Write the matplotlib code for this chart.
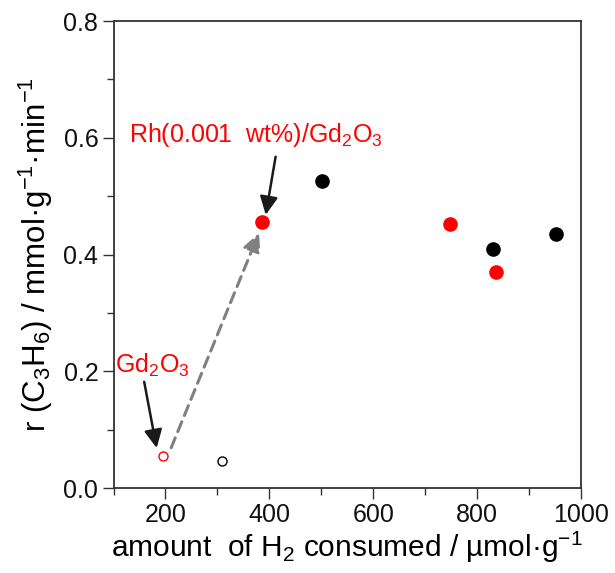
import numpy as np
import matplotlib.pyplot as plt
from matplotlib.ticker import MultipleLocator

plt.rcParams['font.family'] = ['Liberation Sans', 'DejaVu Sans']
plt.rcParams['mathtext.fontset'] = 'custom'
plt.rcParams['mathtext.rm'] = 'Liberation Sans'
plt.rcParams['mathtext.it'] = 'Liberation Sans'

# black filled: Rh catalysts on other supports
black_x = [502, 831, 952]
black_y = [0.526, 0.410, 0.436]
# red filled: Rh/Gd2O3 series
red_x = [386, 747, 837]
red_y = [0.456, 0.452, 0.370]
# hollow points: bare supports
red_open_x = [196]
red_open_y = [0.055]
black_open_x = [309]
black_open_y = [0.047]

fig = plt.figure(figsize=(6.15, 5.73), dpi=100)
ax = fig.add_axes([0.1846, 0.1483, 0.7602, 0.815])

ax.plot(black_x, black_y, 'o', color='black', ms=9.5, zorder=3)
ax.plot(red_x, red_y, 'o', color='red', ms=9.5, zorder=3)
ax.plot(red_open_x, red_open_y, 'o', mfc='white', mec='red', ms=6.5, mew=1.0, zorder=3)
ax.plot(black_open_x, black_open_y, 'o', mfc='white', mec='black', ms=6.5, mew=1.0, zorder=3)

# gray dashed arrow from bare support to Rh-loaded
ax.annotate('', xy=(380, 0.437), xytext=(211, 0.069),
            arrowprops=dict(arrowstyle='-|>,head_length=0.55,head_width=0.27', color='gray',
                            mutation_scale=20, lw=2.2, linestyle=(0, (3.5, 2.2)),
                            shrinkA=0, shrinkB=0))

# labels with black arrows
ax.text(374, 0.593, 'Rh(0.001  wt%)/Gd$_2$O$_3$', color='red', fontsize=18,
        ha='center', va='baseline')
ax.annotate('', xy=(393, 0.468), xytext=(412, 0.5675),
            arrowprops=dict(arrowstyle='-|>,head_length=0.55,head_width=0.27', color='#1a1a1a',
                            mutation_scale=20, lw=1.8, shrinkA=0, shrinkB=0))
ax.text(174, 0.197, 'Gd$_2$O$_3$', color='red', fontsize=18, ha='center', va='baseline')
ax.annotate('', xy=(183, 0.0685), xytext=(159, 0.182),
            arrowprops=dict(arrowstyle='-|>,head_length=0.55,head_width=0.27', color='#1a1a1a',
                            mutation_scale=20, lw=1.8, shrinkA=0, shrinkB=0))

ax.set_xlim(100, 1000)
ax.set_ylim(0, 0.8)
ax.xaxis.set_minor_locator(MultipleLocator(100))
ax.yaxis.set_minor_locator(MultipleLocator(0.1))
ax.set_xticks([200, 400, 600, 800, 1000])
ax.set_xticklabels(['200', '400', '600', '800', '1000'])
ax.set_yticks([0.0, 0.2, 0.4, 0.6, 0.8])
ax.set_yticklabels(['0.0', '0.2', '0.4', '0.6', '0.8'])

for s in ax.spines.values():
    s.set_color('#333333')
    s.set_linewidth(1.3)
ax.tick_params(which='both', direction='out', color='#333333', width=1.0,
               labelsize=18, labelcolor='#111111', pad=3)
ax.tick_params(which='major', length=8)
ax.tick_params(which='minor', length=5)

ax.set_xlabel('amount  of H$_2$ consumed / \u00b5mol\u00b7g$^{-1}$', fontsize=21.5, labelpad=2)
ax.set_ylabel('r (C$_3$H$_6$) / mmol\u00b7g$^{-1}$\u00b7min$^{-1}$', fontsize=22.5, labelpad=6)

fig.savefig('out.png', dpi=100)
